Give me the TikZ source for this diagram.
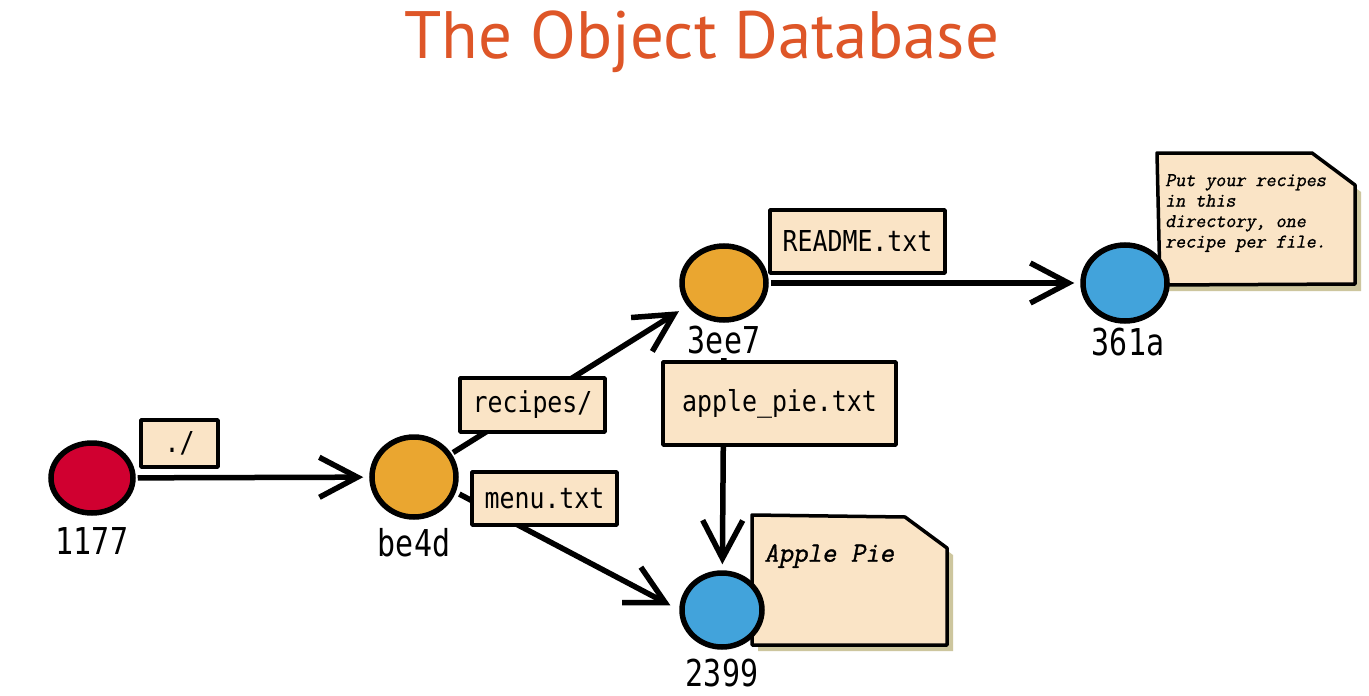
\documentclass[tikz,border=0pt]{standalone}
\usepackage{fontspec}
\newfontfamily\titlefont{PT Sans}
\newfontfamily\hashfont[FakeStretch=0.81]{DejaVu Sans Mono}
\newfontfamily\tagfont[FakeStretch=0.865]{DejaVu Sans Mono}
\newfontfamily\notefont[FakeSlant=0.2,FakeBold=1.2]{Latin Modern Mono}
\usetikzlibrary{arrows.meta,shapes.geometric}
\definecolor{titleorange}{RGB}{222,86,40}
\definecolor{blobred}{RGB}{208,0,48}
\definecolor{bloborange}{RGB}{234,166,48}
\definecolor{blobblue}{RGB}{66,163,219}
\definecolor{paper}{RGB}{250,228,198}
\definecolor{shadowc}{RGB}{205,198,158}
\tikzset{
  blob/.style={ellipse, draw=black, line width=5.5pt, inner sep=0pt, minimum width=84pt, minimum height=76pt},
  hashlabel/.style={font=\hashfont\fontsize{37}{37}\selectfont, inner sep=0pt},
  tag/.style={draw=black, fill=paper, line width=3.5pt, line join=round, font=\tagfont\fontsize{28.8}{28.8}\selectfont, inner sep=0pt},
  conn/.style={line width=5.5pt, -{Straight Barb[length=38pt,width=40pt,line width=5.5pt]}},
  notepaper/.style={draw=black, fill=paper, line width=3.5pt, line join=round},
  noteshadow/.style={fill=shadowc},
  notetext/.style={align=left, inner sep=0pt, anchor=north west}
}
\begin{document}
\begin{tikzpicture}[x=1pt,y=-1pt]
\useasboundingbox (0,0) rectangle (1369,696);
\fill[white] (0,0) rectangle (1369,696);
% title
\node[text=titleorange, font=\titlefont\fontsize{67}{67}\selectfont, anchor=base, inner sep=0pt] (title) at (702,58) {The Object Database};
% notes
\fill[noteshadow] (1163,160) -- (1318,160) -- (1361,192) -- (1361,291) -- (1166,291) -- cycle;
\draw[notepaper] (1157,153) -- (1312,153) -- (1355,185) -- (1355,284) -- (1160,285) -- cycle;
\node[notetext, font=\notefont\fontsize{19.5}{20.5}\selectfont] (note1) at (1165,174) {Put your recipes\\in this\\directory, one\\recipe per file.};
\fill[noteshadow] (758,522) -- (911,524) -- (953,555) -- (953,651) -- (758,651) -- cycle;
\draw[notepaper] (752,515) -- (905,517) -- (947,548) -- (947,645) -- (752,645) -- cycle;
\node[notetext, font=\notefont\fontsize{28}{28}\selectfont] (note2) at (764,544) {Apple Pie};
% objects
\node[blob, fill=blobred, minimum width=82pt, minimum height=70pt] (n1177) at (92,478) {};
\node[blob, fill=bloborange, minimum width=84pt, minimum height=80pt] (be4d) at (414,477) {};
\node[blob, fill=bloborange, minimum width=84pt, minimum height=74pt] (n3ee7) at (724,283) {};
\node[blob, fill=blobblue, minimum width=84pt, minimum height=76pt] (n361a) at (1125,283) {};
\node[blob, fill=blobblue, minimum width=80pt, minimum height=74pt] (n2399) at (722,610) {};
\node[hashlabel] (l1177) at (92,541) {1177};
\node[hashlabel] (lbe4d) at (414,543) {be4d};
\node[hashlabel] (l3ee7) at (724,340) {3ee7};
\node[hashlabel] (l361a) at (1128,342) {361a};
\node[hashlabel] (l2399) at (722,673) {2399};
% connectors
\draw[conn, shorten <=2pt, shorten >=6pt] (n1177) -- (be4d);
\draw[conn, shorten <=2pt, shorten >=10pt] (be4d) -- (n3ee7);
\draw[conn, shorten <=4pt, shorten >=10pt] (be4d.-20) -- (n2399.west);
\draw[conn, shorten <=2pt, shorten >=6pt] (n3ee7) -- (n361a);
\draw[conn, shorten <=4pt, shorten >=6pt] (l3ee7.south) -- (n2399);
% tags
\node[tag, minimum width=77pt, minimum height=47pt] (t1) at (179.5,443.5) {./};
\node[tag, minimum width=145pt, minimum height=54pt] (t2) at (532.5,405) {recipes/};
\node[tag, minimum width=145pt, minimum height=53pt] (t3) at (544.5,498.5) {menu.txt};
\node[tag, minimum width=175pt, minimum height=63pt] (t4) at (857.5,241.5) {README.txt};
\node[tag, minimum width=233pt, minimum height=83pt] (t5) at (779.5,403.5) {apple\_pie.txt};
\end{tikzpicture}
\end{document}
